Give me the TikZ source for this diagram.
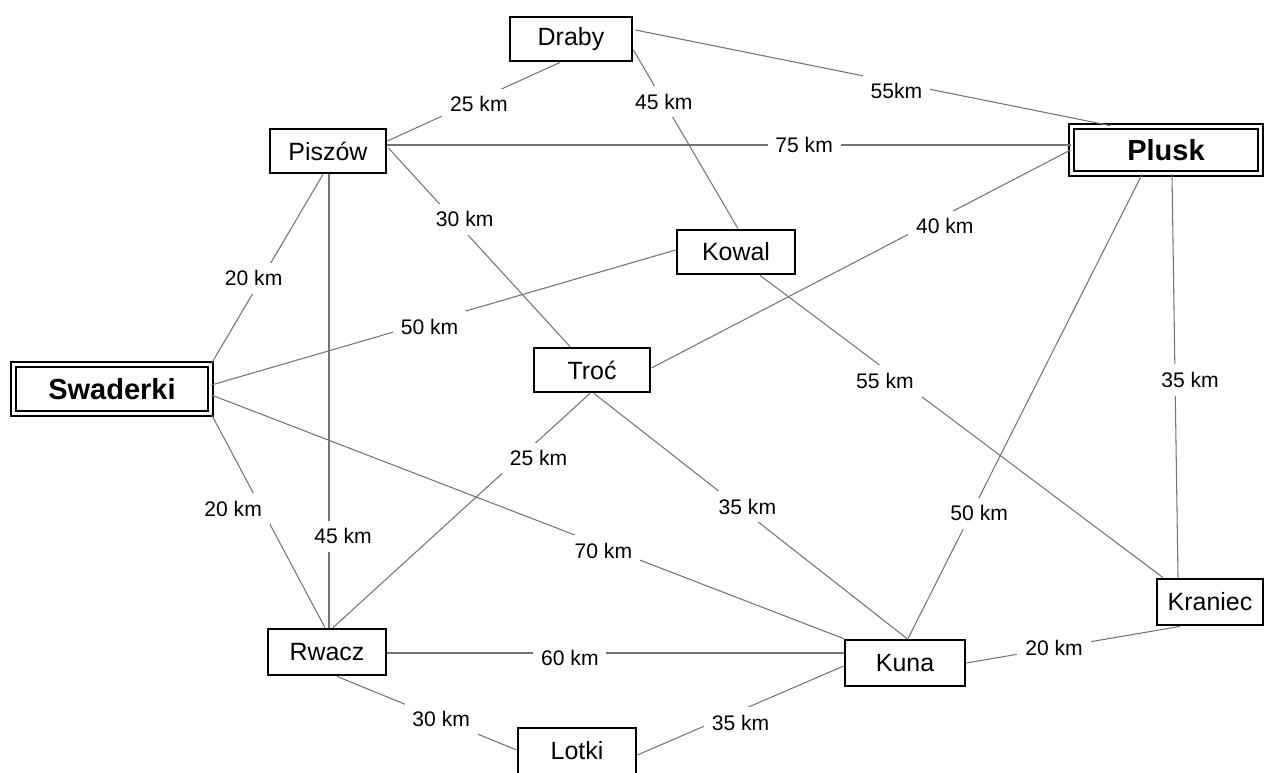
\documentclass[tikz,border=0pt]{standalone}
\usepackage{fontspec}
\setmainfont{Liberation Sans}

\tikzset{
  town/.style={draw, line width=1.6pt, minimum width=2.36cm, minimum height=0.88cm,
    inner sep=0pt, font=\fontsize{14.2}{16}\selectfont},
  hub/.style={draw, double=white, double distance=1.6pt, line width=1.1pt,
    inner sep=0pt, font=\fontsize{16.5}{19}\selectfont\bfseries},
  road/.style={draw=black!55, line width=0.6pt},
  km/.style={fill=white, inner sep=4.5pt, font=\fontsize{12}{14}\selectfont}
}

\begin{document}
\begin{tikzpicture}[x=0.02cm, y=-0.02cm]
\useasboundingbox (0,0) rectangle (1264,773);

% towns
\node[town, minimum width=2.44cm] (draby) at (571,39) {Draby};
\node[town, minimum width=2.32cm] (piszow) at (328,151) {Piszów};
\node[hub, minimum width=3.78cm, minimum height=0.94cm] (plusk) at (1166,150) {Plusk};
\node[town] (kowal) at (736,252) {Kowal};
\node[hub, minimum width=3.94cm, minimum height=0.98cm] (swaderki) at (112,389) {Swaderki};
\node[town, minimum width=2.32cm] (troc) at (592,370) {Troć};
\node[town, minimum width=2.12cm, minimum height=0.92cm] (kraniec) at (1210,602) {Kraniec};
\node[town, minimum height=0.92cm] (rwacz) at (327,652) {Rwacz};
\node[town, minimum width=2.4cm, minimum height=0.92cm] (kuna) at (905,663) {Kuna};
\node[town, minimum height=0.92cm] (lotki) at (577,751) {Lotki};

% roads
\draw[road] ([shift={(-11,0)}]draby.south) -- node[km, pos=0.47, yshift=-0.1cm] {25 km} ([shift={(0,-10)}]piszow.east);
\draw[road] ([shift={(0,11)}]draby.east) -- node[km, pos=0.29] {45 km} ([shift={(2,0)}]kowal.north);
\draw[road] ([shift={(2,-9)}]draby.east) -- node[km, pos=0.55, yshift=-0.16cm] {55km} ([shift={(-56,0)}]plusk.north);
\draw[road] ([shift={(0,-6)}]piszow.east) -- node[km, pos=0.61] {75 km} ([shift={(0,-5)}]plusk.west);
\draw[road] ([shift={(1,-3)}]piszow.east) -- node[km, pos=0.42, yshift=0.24cm] {30 km} ([shift={(-22,0)}]troc.north);
\draw[road] ([shift={(-5,0)}]piszow.south) -- node[km, pos=0.55, xshift=-0.16cm] {20 km} (swaderki.north east);
\draw[road] ([shift={(1,0)}]piszow.south) -- node[km, pos=0.79, xshift=0.28cm, yshift=-0.08cm] {45 km} ([shift={(2,0)}]rwacz.north);
\draw[road] ([shift={(0,-2)}]kowal.west) -- node[km, pos=0.53, yshift=-0.1cm] {50 km} ([shift={(0,-4)}]swaderki.east);
\draw[road] ([shift={(24,0)}]kowal.south) -- node[km, pos=0.31, yshift=-0.24cm] {55 km} ([shift={(-47,0)}]kraniec.north);
\draw[road] ([shift={(0,-2)}]troc.east) -- node[km, pos=0.70, yshift=-0.22cm] {40 km} (plusk.west);
\draw[road] ([shift={(-24,0)}]plusk.south) -- node[km, pos=0.73, xshift=0.16cm] {50 km} ([shift={(3,0)}]kuna.north);
\draw[road] ([shift={(6,0)}]plusk.south) -- node[km, pos=0.51, xshift=0.3cm] {35 km} ([shift={(-32,0)}]kraniec.north);
\draw[road] (swaderki.south east) -- node[km, pos=0.42, xshift=-0.52cm, yshift=-0.1cm] {20 km} ([shift={(-2,0)}]rwacz.north);
\draw[road] ([shift={(0,6)}]swaderki.east) -- node[km, pos=0.62, yshift=-0.1cm] {70 km} (kuna.north west);
\draw[road] ([shift={(-2,0)}]troc.south) -- node[km, pos=0.20, yshift=-0.36cm] {25 km} ([shift={(6,0)}]rwacz.north);
\draw[road] ([shift={(2,0)}]troc.south) -- node[km, pos=0.49, yshift=0.14cm] {35 km} ([shift={(2,0)}]kuna.north);
\draw[road] ([shift={(0,1)}]rwacz.east) -- node[km, pos=0.40, yshift=-0.1cm] {60 km} ([shift={(0,-10)}]kuna.west);
\draw[road] ([shift={(10,0)}]rwacz.south) -- node[km, pos=0.58] {30 km} ([shift={(0,-1)}]lotki.west);
\draw[road] ([shift={(0,4)}]lotki.east) -- node[km, pos=0.50, yshift=-0.24cm] {35 km} ([shift={(0,3)}]kuna.west);
\draw[road] (kuna.east) -- node[km, pos=0.41] {20 km} ([shift={(-30,0)}]kraniec.south);
\end{tikzpicture}
\end{document}
